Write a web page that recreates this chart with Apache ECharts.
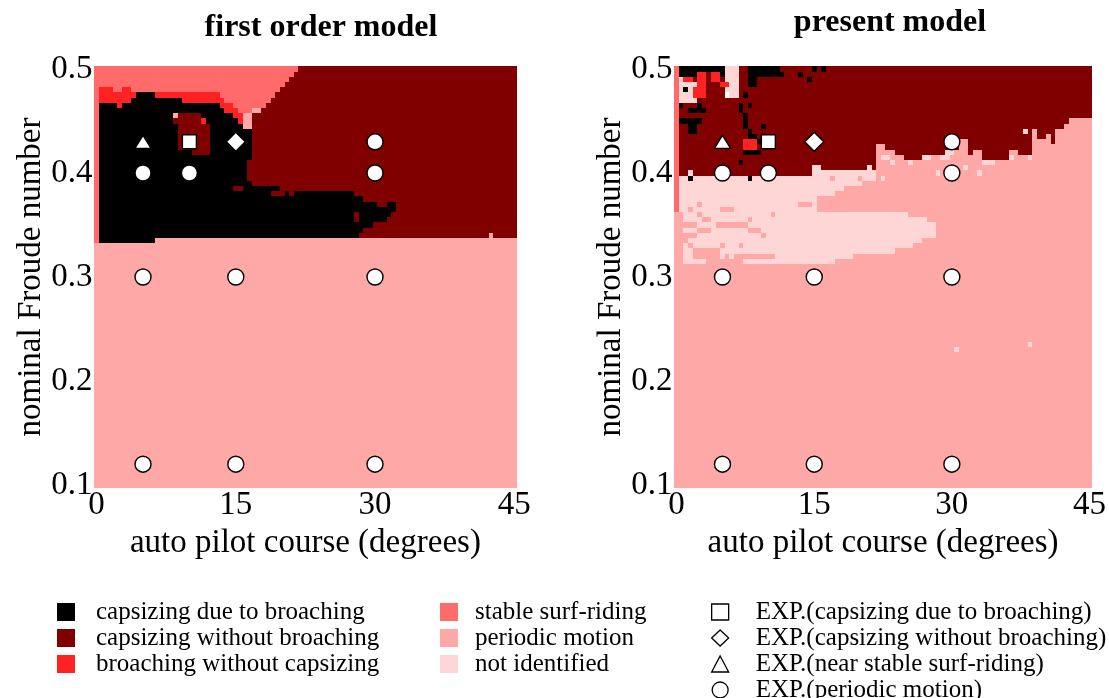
<!DOCTYPE html>
<html><head><meta charset="utf-8">
<script src="https://cdn.jsdelivr.net/npm/echarts@6/dist/echarts.min.js"></script>
<style>html,body{margin:0;padding:0;background:#fff}#c{width:1109px;height:698px}</style>
</head><body><div id="c"></div>
<script>
// ---------- data ----------
const categoryNames = ['capsizing due to broaching','capsizing without broaching','broaching without capsizing','stable surf-riding','periodic motion','not identified'];
const categoryCodes = ['K','D','B','S','P','N'];
const categoryColors = ['#000000','#800000','#ff2222','#ff6a6a','#ffa8a8','#ffd6d6'];

const expNames = ['EXP.(capsizing due to broaching)','EXP.(capsizing without broaching)','EXP.(near stable surf-riding)','EXP.(periodic motion)'];
const expSymbols = ['rect','diamond','triangle','circle'];
const expCapsizeBroach = [[10,0.43]];
const expCapsizeNoBroach = [[15,0.43]];
const expNearSurf = [[5,0.43]];
const expPeriodic = [[5,0.40],[10,0.40],[30,0.43],[30,0.40],[5,0.30],[15,0.30],[30,0.30],[5,0.12],[15,0.12],[30,0.12]];

const xTickValues = [0,15,30,45];
const yTickValues = [0.1,0.2,0.3,0.4,0.5];
const courseStep = 0.5;    // cell width (degrees)
const froudeStep = 0.005;  // cell height
const froudeTop = 0.5;     // first row

// rows from Fn = 0.5 (top) down to 0.1; columns 0..90 -> course 0..45 step 0.5
const leftRows = [
'S0-43,D44-90','S0-42,D43-90','S0-41,D42-90','S0-40,D41-90',
'S0,B1-3,S4-5,B6-7,S8-39,D40-90',
'S0,B1-8,K9-12,B13-26,S27-38,D39-90',
'S0,B1-7,K8-18,B19-27,S28-37,D38-90',
'S0,K1-4,B5,K6-26,B27-29,S30-36,D37-90',
'S0,K1-27,B28-30,S31-33,P34-35,D36-90',
'S0,K1-16,P17,D18-22,K23-29,B30-31,P32-33,D34-90',
'S0,K1-16,D17-22,B23,K24-30,B31,P32-33,D34-90',
'S0,K1-17,D18-24,K25-31,P32-33,D34-90',
'S0,K1-17,D18-24,K25-33,D34-90',
'S0,K1-17,D18-24,K25-33,D34-90',
'S0,K1-17,D18-24,K25-33,D34-90',
'S0,K1-17,D18-24,K25-33,D34-90',
'S0,K1-20,D21-24,K25-33,D34-90',
'S0,K1-33,D34-90',
'S0,K1-32,D33-90','S0,K1-32,D33-90','S0,K1-32,D33-90','S0,K1-32,D33-90',
'S0,K1-33,D34-90',
'S0,K1-29,D30-31,K32-39,D40-90',
'S0,K1-37,D38-40,K41,D42,K43-55,D56-90',
'S0,K1-57,D58-90',
'S0,K1-60,D61-62,K63-64,D65-90',
'S0,K1-64,D65-90',
'S0,K1-55,D56,K57-63,D64-90',
'S0,K1-55,D56,K57-62,D63-90',
'S0,K1-59,D60-90',
'S0,K1-57,D58-90',
'S0,K1-56,D57-84,P85,D86-90',
'S0,K1-12,P13-90',
'P0-90','P0-90','P0-90','P0-90','P0-90','P0-90','P0-90','P0-90','P0-90','P0-90',
'P0-90','P0-90','P0-90','P0-90','P0-90','P0-90','P0-90','P0-90','P0-90','P0-90',
'P0-90','P0-90','P0-90','P0-90','P0-90','P0-90','P0-90','P0-90','P0-90','P0-90',
'P0-90','P0-90','P0-90','P0-90','P0-90','P0-90','P0-90','P0-90','P0-90','P0-90',
'P0-90','P0-90','P0-90','P0-90','P0-90','P0-90','P0-90'
];

const rightRows = [
'S0,K1-10,N11-13,D14-15,K16-22,D23-29,K30,D31,K32,D33-90',
'S0,K1-2,K3-4,B5-6,D7,B8-9,K10,N11-13,D14-15,K16-22,K23,D24-26,K27,D28-90',
'S0,N1,B2-3,D4,B5-6,D7,B8-9,D10,N11-13,D14-15,K16-17,D18-22,D23,D24-28,K29,D30-90',
'S0,N1-4,B5-6,D7-9,B10-11,N12-13,D14-15,K16-17,D18-90',
'S0,N1,K2,N3,B4-6,D7-10,N11-13,D14-90',
'S0,N1-3,B4-6,D7-10,N12-13,D14,K15,D16-90',
'S0,N1-4,D5-90',
'S0,K1,D2-4,K5,D6-13,K14,D15,K16,D17-90',
'S0,D1-2,K3-6,D7-13,K14,D15-90',
'S0,D1-14,K15,D16-90',
'S0,K1-5,D6-14,K15,D16-85,P86-90',
'S0,D1-2,K3-4,D5-14,K15,D16-18,K19,D20-84,P85-90',
'S0,D1-2,K3-4,D5-15,K16,D17-75,N76,D77,P78,D79-82,P83-90',
'S0,D1-15,K16-17,D18-77,P78,D79-80,P81,D82,P83-90',
'S0,D1-14,B15-17,K18,D19-61,P62-63,D64-77,P78-81,D82,P83-90',
'S0,D1-14,B15-17,D18-43,P44-45,D46-61,P62-63,D64-77,P78-90',
'S0,D1-14,K15-18,D19-43,P44-47,D48-58,N59-60,P61-63,D64,P65-66,D67-72,P73-74,D75-77,P78-90',
'S0,D1-43,P44,N45-46,P47-49,D50-53,N54-55,P56-57,N58-59,P60-66,D67-72,N73,P74-76,N77,P78-90',
'S0,D1-13,K14,D15-43,P44-46,N47,P48-50,N51,P52-66,N67-69,P70-90',
'S0,D1-29,N30-31,D32-41,N42,D43,P44-62,N63,P64-90',
'S0,D1-2,N3,D4-29,N30-43,P44-56,N57,P58-65,N66,P67-90',
'S0,N1-2,K3,N4-15,K16,N17-33,P34,N35-39,P40,N41-43,P44,N45,P46-90',
'S0,N1-40,P41-90',
'S0,N1-36,P37-90',
'S0,N1-34,P35-90',
'S0,N1-30,P31-90',
'S0,N1-4,P5,N6-26,P27-29,N30,P31-90',
'S0,N1-2,P3,N4-9,P10-12,N13-30,P31-90',
'P0-1,N2-4,P5,N6-20,P21,N22-50,P51-90',
'P0-1,N2-5,P6-7,N8-15,P16,N17-54,P55-90',
'P0-4,N5-8,P9-15,N16-56,P57-90',
'P0-1,N2-4,P5-7,N8-15,P16-18,N19-56,P57-90',
'P0-4,N5-18,P19,N20-56,P57-90',
'P0-2,N3-53,P54-90',
'P0-1,N2,P3,N4-9,P10,N11-13,P14,N15-51,P52-90',
'P0-1,N2-3,P4-9,N10-47,P48-90',
'P0-1,N2-3,P4-9,N10,P11,N12,P13-21,N22-38,P39-90',
'P0-1,N2-6,P7-14,N15-34,P35-90',
'P0-90','P0-90','P0-90','P0-90','P0-90','P0-90','P0-90','P0-90','P0-90','P0-90',
'P0-90','P0-90','P0-90','P0-90','P0-90',
'P0-76,N77,P78-90',
'P0-60,N61,P62-90',
'P0-90','P0-90','P0-90','P0-90','P0-90','P0-90','P0-90','P0-90','P0-90','P0-90',
'P0-90','P0-90','P0-90','P0-90','P0-90','P0-90','P0-90','P0-90','P0-90','P0-90',
'P0-90','P0-90','P0-90','P0-90','P0-90','P0-90'
];

// ---------- build runs ----------
function buildRuns(rows){
  const runs = {}; categoryCodes.forEach(c => runs[c] = []);
  rows.forEach((row, r) => {
    const fr = +(froudeTop - r * froudeStep).toFixed(4);
    const cells = [];
    row.split(',').forEach(tok => {
      const code = tok[0];
      const pr = tok.slice(1).split('-').map(Number);
      const a = pr[0], b = pr.length > 1 ? pr[1] : pr[0];
      for (let c = a; c <= b; c++) cells[c] = code;
    });
    let start = 0;
    for (let c = 1; c <= cells.length; c++) {
      if (c === cells.length || cells[c] !== cells[start]) {
        if (cells[start]) runs[cells[start]].push([start * courseStep, (c - 1) * courseStep, fr]);
        start = c;
      }
    }
  });
  return runs;
}
const leftRuns = buildRuns(leftRows);
const rightRuns = buildRuns(rightRows);

const FONT = "'Liberation Serif','Times New Roman',serif";

function cellSeries(runs, gi){
  return categoryCodes.map((code, k) => ({
    type: 'custom', name: categoryNames[k], xAxisIndex: gi, yAxisIndex: gi,
    data: runs[code], clip: false, silent: true, z: 1,
    itemStyle: { color: categoryColors[k] },
    encode: { x: [0, 1], y: 2 },
    renderItem: function(params, api){
      const p0 = api.coord([api.value(0) - courseStep / 2, api.value(2) + froudeStep / 2]);
      const p1 = api.coord([api.value(1) + courseStep / 2, api.value(2) - froudeStep / 2]);
      const x0 = Math.round(p0[0]), y0 = Math.round(p0[1]);
      const x1 = Math.round(p1[0]), y1 = Math.round(p1[1]);
      return { type: 'rect', shape: { x: x0, y: y0, width: x1 - x0, height: y1 - y0 },
               style: { fill: categoryColors[k] } };
    }
  }));
}

const expData = [expCapsizeBroach, expCapsizeNoBroach, expNearSurf, expPeriodic];
const expSizes = [14, 19, [16, 13], 16];
function expSeries(gi){
  return expNames.map((n, i) => ({
    type: 'scatter', name: n, xAxisIndex: gi, yAxisIndex: gi, data: expData[i],
    symbol: expSymbols[i], symbolSize: expSizes[i], z: 5, silent: true,
    itemStyle: { color: '#ffffff', borderColor: '#000000', borderWidth: 1.4, opacity: 1 }
  }));
}

function xAxisOpt(gi){
  return { type: 'value', gridIndex: gi, min: 0, max: 45, interval: 15,
    axisLine: { show: false }, axisTick: { show: false }, splitLine: { show: false },
    axisLabel: { fontSize: 33, fontFamily: FONT, color: '#000', margin: 4 },
    name: 'auto pilot course (degrees)', nameLocation: 'middle', nameGap: 42,
    nameTextStyle: { fontSize: 33, fontFamily: FONT, color: '#000' } };
}
function yAxisOpt(gi){
  return { type: 'value', gridIndex: gi, min: 0.1, max: 0.5, interval: 0.1,
    axisLine: { show: false }, axisTick: { show: false }, splitLine: { show: false },
    axisLabel: { fontSize: 33, fontFamily: FONT, color: '#000', margin: 4, formatter: v => v.toFixed(1) },
    name: 'nominal Froude number', nameLocation: 'middle', nameGap: 46, nameRotate: 90,
    nameTextStyle: { fontSize: 33, fontFamily: FONT, color: '#000' } };
}

const legendText = { fontSize: 25, fontFamily: FONT, color: '#000', lineHeight: 26 };
const option = {
  animation: false,
  backgroundColor: '#ffffff',
  title: [
    { text: 'first order model', left: 321, top: 12, padding: 0, textAlign: 'center',
      textStyle: { fontSize: 32, fontWeight: 'bold', fontFamily: FONT, color: '#000' } },
    { text: 'present model', left: 890, top: 7, padding: 0, textAlign: 'center',
      textStyle: { fontSize: 32, fontWeight: 'bold', fontFamily: FONT, color: '#000' } }
  ],
  grid: [
    { left: 96.6, top: 69, width: 417.6, height: 416 },
    { left: 676.6, top: 69, width: 417.6, height: 416 }
  ],
  xAxis: [xAxisOpt(0), xAxisOpt(1)],
  yAxis: [yAxisOpt(0), yAxisOpt(1)],
  legend: [
    { left: 57, top: 599, height: 110, padding: 0, orient: 'vertical', itemWidth: 18, itemHeight: 18, itemGap: 0, selectedMode: false,
      data: categoryNames.slice(0, 3).map(n => ({ name: n, icon: 'rect' })),
      textStyle: Object.assign({ padding: [0, 0, 0, 16] }, legendText) },
    { left: 440, top: 599, height: 110, padding: 0, orient: 'vertical', itemWidth: 18, itemHeight: 18, itemGap: 0, selectedMode: false,
      data: categoryNames.slice(3, 6).map(n => ({ name: n, icon: 'rect' })),
      textStyle: Object.assign({ padding: [0, 0, 0, 12] }, legendText) },
    { left: 711, top: 599, height: 110, padding: 0, orient: 'vertical', itemWidth: 17, itemHeight: 16, itemGap: 0, selectedMode: false,
      data: expNames.map((n, i) => ({ name: n, icon: expSymbols[i],
        itemStyle: { color: '#fff', borderColor: '#000', borderWidth: 1.3 } })),
      textStyle: Object.assign({ padding: [0, 0, 0, 22] }, legendText) }
  ],
  series: [].concat(cellSeries(leftRuns, 0), cellSeries(rightRuns, 1), expSeries(0), expSeries(1))
};

const chart = echarts.init(document.getElementById('c'), null, { renderer: 'canvas' });
chart.setOption(option);
</script>
</body></html>
